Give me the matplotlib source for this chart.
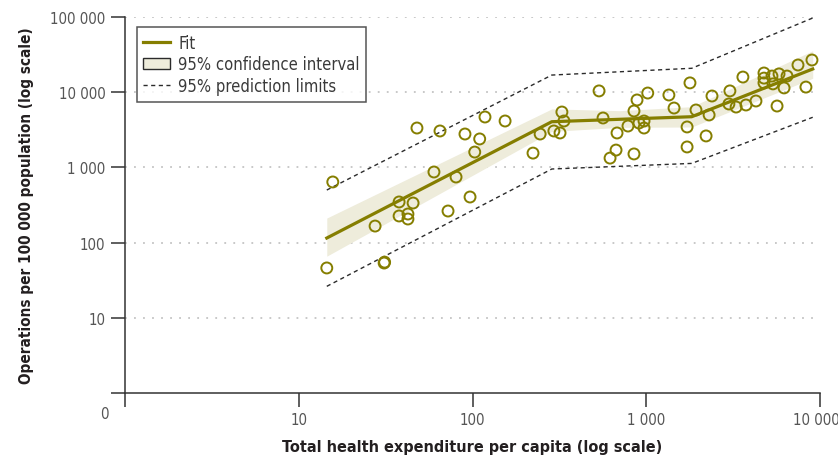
import matplotlib
matplotlib.use("Agg")
import matplotlib.pyplot as plt
import matplotlib.transforms as mtransforms
from matplotlib.lines import Line2D
from matplotlib.patches import Patch

plt.rcParams['font.family'] = ['DejaVu Sans']
plt.rcParams['font.stretch'] = 'condensed'

# Countries: total health expenditure per capita vs operations per 100 000
spend = [15.7, 14.5, 31.0, 31.2, 27.5, 37.8, 42.5, 42.5, 37.8, 45.5,
         60.0, 80.4, 72.3, 96.8, 103, 47.9, 65.0, 90.5, 118, 154,
         110, 223, 245, 294, 319, 327, 336, 535, 564, 679,
         670, 619, 850, 785, 850, 885, 1020, 908, 971, 971,
         1350, 1445, 1718, 1718, 1785, 2210, 1933, 2300, 2390, 3030,
         2990, 3290, 3750, 3600, 4280, 4760, 4760, 4760, 5290, 5360,
         5810, 6460, 6210, 5660, 7470, 8990, 8300]
operations = [640, 46, 53.5, 55, 166, 226, 240, 206, 347, 336,
              869, 745, 263, 404, 1600, 3340, 3050, 2780, 4680, 4140,
              2390, 1550, 2780, 3050, 2870, 5450, 4140, 10400, 4540, 2870,
              1700, 1330, 1510, 3550, 5620, 7880, 9750, 3890, 4140, 3340,
              9180, 6160, 3450, 1870, 13300, 2620, 5800, 4980, 8900, 10400,
              6970, 6350, 6760, 15900, 7640, 18000, 15400, 13300, 16400, 12900,
              17500, 16400, 11400, 6550, 23000, 26800, 11700]

# piecewise fit, confidence band and prediction limits
fit_x = [14.5, 286, 1827, 9080]
fit_y = [115, 4050, 4720, 20350]
pi_upper = [500, 16900, 20800, 97000]
pi_lower = [26.2, 952, 1130, 4640]

ci_x = [14.5, 286, 706, 1827, 9080]
ci_upper = [212, 6000, 5680, 6420, 35600]
ci_lower = [66, 3010, 3410, 3445, 15300]

olive = '#857e00'
band = '#eeecdb'
dark = '#2b2b2b'

fig = plt.figure(figsize=(8.38, 4.6), dpi=100)
ax = fig.add_axes([125/838, 66/460, 695/838, 376/460])

ax.set_xscale('log')
ax.set_yscale('log')
ax.set_xlim(1, 10000)
ax.set_ylim(1, 100000)

ax.fill_between(ci_x, ci_lower, ci_upper, color=band, lw=0, zorder=1)
ax.plot(fit_x, pi_upper, color=dark, lw=1, ls=(0, (3, 2.5)), zorder=2)
ax.plot(fit_x, pi_lower, color=dark, lw=1, ls=(0, (3, 2.5)), zorder=2)
ax.plot(fit_x, fit_y, color=olive, lw=2.3, zorder=3)
ax.scatter(spend, operations, s=62, facecolors='none', edgecolors=olive,
           linewidths=1.4, zorder=4)

# axes styling
for side in ['top', 'right']:
    ax.spines[side].set_visible(False)
for side in ['left', 'bottom']:
    ax.spines[side].set_color('#333333')
    ax.spines[side].set_linewidth(1.1)

ax.set_xticks([1, 10, 100, 1000, 10000])
ax.set_xticklabels(['', '10', '100', '1 000', '10 000'])
ax.set_yticks([1, 10, 100, 1000, 10000, 100000])
ax.set_yticklabels(['', '10', '100', '1 000', '10 000', '100 000'])
ax.minorticks_off()
ax.tick_params(axis='both', length=10, width=1.1, color='#333333',
               labelsize=10.8, labelcolor='#555555', pad=4)

# nudge the last x label so it stays inside the picture
last = ax.get_xticklabels()[-1]
last.set_transform(last.get_transform() +
                   mtransforms.ScaledTranslation(-4/100, 0, fig.dpi_scale_trans))

for yv in [10, 100, 1000, 10000, 100000]:
    ax.axhline(yv, color='#c4c4c4', lw=1.3, ls=(0, (1, 4)), zorder=0)

fig.text(104/838, 1 - 415/460, '0', ha='center', va='center',
         fontsize=10.8, color='#555555')

ax.set_xlabel('Total health expenditure per capita (log scale)',
              fontsize=11.6, fontweight='bold', color='#231f20', labelpad=8)
ax.set_ylabel('Operations per 100 000 population (log scale)',
              fontsize=11.0, fontweight='bold', color='#231f20', labelpad=12)

handles = [Line2D([], [], color=olive, lw=2.3),
           Patch(facecolor=band, edgecolor=dark, lw=1),
           Line2D([], [], color=dark, lw=1, ls=(0, (3, 2.5)))]
labels = ['Fit', '95% confidence interval', '95% prediction limits']
leg = ax.legend(handles, labels, loc='upper left', bbox_to_anchor=(0.017, 0.973),
                frameon=True, fancybox=False, fontsize=11.9, handlelength=1.6,
                handletextpad=0.5, borderpad=0.4, labelspacing=0.22,
                borderaxespad=0)
leg.get_frame().set_edgecolor(dark)
leg.get_frame().set_linewidth(1.1)
for t in leg.get_texts():
    t.set_color('#3a3a3a')

fig.savefig('out.png', dpi=100)
